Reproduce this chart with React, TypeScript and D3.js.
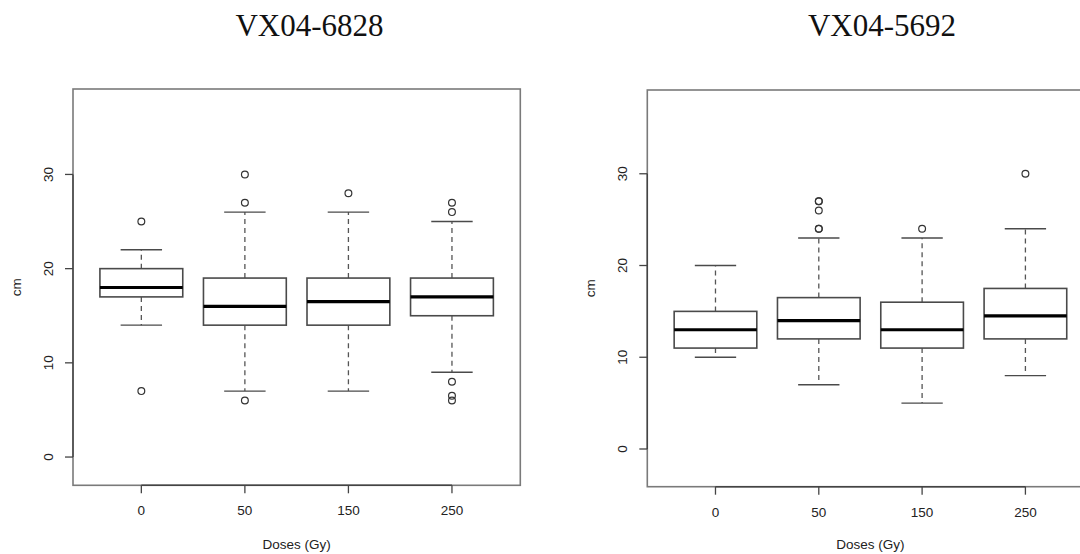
import React from "react";
import * as d3 from "d3";

const doses = ["0", "50", "150", "250"];
const yTicks = [0, 10, 20, 30];

// VX04-6828
const aLow = [14, 7, 7, 9];
const aQ1 = [17, 14, 14, 15];
const aMedian = [18, 16, 16.5, 17];
const aQ3 = [20, 19, 19, 19];
const aHigh = [22, 26, 26, 25];
const aOutliers = [[25, 7], [30, 27, 6], [28], [27, 26, 8, 6.5, 6]];

// VX04-5692
const bLow = [10, 7, 5, 8];
const bQ1 = [11, 12, 11, 12];
const bMedian = [13, 14, 13, 14.5];
const bQ3 = [15, 16.5, 16, 17.5];
const bHigh = [20, 23, 23, 24];
const bOutliers = [[], [27, 27, 26, 24, 24], [24], [30]];

const FONT = "'Liberation Sans', Arial, sans-serif";

type PanelProps = {
  title: string;
  titleX: number;
  x0: number;
  x1: number;
  yTop: number;
  yBottom: number;
  yDomain: [number, number];
  low: number[];
  q1: number[];
  median: number[];
  q3: number[];
  high: number[];
  outliers: number[][];
};

function Panel(p: PanelProps) {
  const x = d3.scaleLinear().domain([0.34, 4.66]).range([p.x0, p.x1]);
  const y = d3.scaleLinear().domain(p.yDomain).range([p.yBottom, p.yTop]);
  const unit = x(1) - x(0);
  const boxW = 0.8 * unit;
  const capW = 0.4 * unit;
  const cx = (p.x0 + p.x1) / 2;
  const grayBox = "#4a4a4a";
  return (
    <g>
      <text x={p.titleX} y={36} textAnchor="middle" fontFamily="'Liberation Serif', 'Times New Roman', serif" fontSize={31} fill="#111">
        {p.title}
      </text>
      {/* frame */}
      <rect x={p.x0} y={p.yTop} width={p.x1 - p.x0} height={p.yBottom - p.yTop} fill="none" stroke="#7a7a7a" strokeWidth={1.6} />
      {/* y axis */}
      <line x1={p.x0} x2={p.x0} y1={y(yTicks[0])} y2={y(yTicks[yTicks.length - 1])} stroke="#444" strokeWidth={1.4} />
      {yTicks.map((t) => (
        <g key={"yt" + t}>
          <line x1={p.x0 - 8} x2={p.x0} y1={y(t)} y2={y(t)} stroke="#444" strokeWidth={1.3} />
          <text
            transform={`translate(${p.x0 - 25},${y(t)}) rotate(-90)`}
            textAnchor="middle"
            dominantBaseline="central"
            fontFamily={FONT}
            fontSize={13.5}
            fill="#222"
          >
            {t}
          </text>
        </g>
      ))}
      {/* x axis */}
      <line x1={x(1)} x2={x(doses.length)} y1={p.yBottom} y2={p.yBottom} stroke="#444" strokeWidth={1.4} />
      {doses.map((d, i) => (
        <g key={"xt" + d}>
          <line x1={x(i + 1)} x2={x(i + 1)} y1={p.yBottom} y2={p.yBottom + 8} stroke="#444" strokeWidth={1.3} />
          <text x={x(i + 1)} y={p.yBottom + 30} textAnchor="middle" fontFamily={FONT} fontSize={13.5} fill="#222">
            {d}
          </text>
        </g>
      ))}
      <text x={cx} y={549} textAnchor="middle" fontFamily={FONT} fontSize={13.5} fill="#222">
        Doses (Gy)
      </text>
      <text
        transform={`translate(${p.x0 - 57},${(p.yTop + p.yBottom) / 2}) rotate(-90)`}
        textAnchor="middle"
        dominantBaseline="central"
        fontFamily={FONT}
        fontSize={13.5}
        fill="#222"
      >
        cm
      </text>
      {/* boxes */}
      {doses.map((d, i) => {
        const c = x(i + 1);
        return (
          <g key={"b" + d}>
            <line x1={c} x2={c} y1={y(p.q3[i])} y2={y(p.high[i])} stroke="#555" strokeWidth={1.3} strokeDasharray="5,4" />
            <line x1={c} x2={c} y1={y(p.q1[i])} y2={y(p.low[i])} stroke="#555" strokeWidth={1.3} strokeDasharray="5,4" />
            <line x1={c - capW / 2} x2={c + capW / 2} y1={y(p.high[i])} y2={y(p.high[i])} stroke={grayBox} strokeWidth={1.4} />
            <line x1={c - capW / 2} x2={c + capW / 2} y1={y(p.low[i])} y2={y(p.low[i])} stroke={grayBox} strokeWidth={1.4} />
            <rect x={c - boxW / 2} y={y(p.q3[i])} width={boxW} height={y(p.q1[i]) - y(p.q3[i])} fill="#fff" stroke={grayBox} strokeWidth={1.6} />
            <line x1={c - boxW / 2} x2={c + boxW / 2} y1={y(p.median[i])} y2={y(p.median[i])} stroke="#000" strokeWidth={3.2} />
            {p.outliers[i].map((v, j) => (
              <circle key={j} cx={c} cy={y(v)} r={3.4} fill="none" stroke="#333" strokeWidth={1.2} />
            ))}
          </g>
        );
      })}
    </g>
  );
}

export default function App() {
  return (
    <svg width={1080} height={554} style={{ position: "absolute", left: 0, top: 0, background: "#fff" }}>
      <rect width={1080} height={554} fill="#fff" />
      <Panel
        title="VX04-6828"
        titleX={309.5}
        x0={73}
        x1={520.3}
        yTop={89}
        yBottom={485.3}
        yDomain={[-3.0, 39.07]}
        low={aLow}
        q1={aQ1}
        median={aMedian}
        q3={aQ3}
        high={aHigh}
        outliers={aOutliers}
      />
      <Panel
        title="VX04-5692"
        titleX={882}
        x0={647.3}
        x1={1093.6}
        yTop={90}
        yBottom={486.7}
        yDomain={[-4.11, 39.13]}
        low={bLow}
        q1={bQ1}
        median={bMedian}
        q3={bQ3}
        high={bHigh}
        outliers={bOutliers}
      />
    </svg>
  );
}
